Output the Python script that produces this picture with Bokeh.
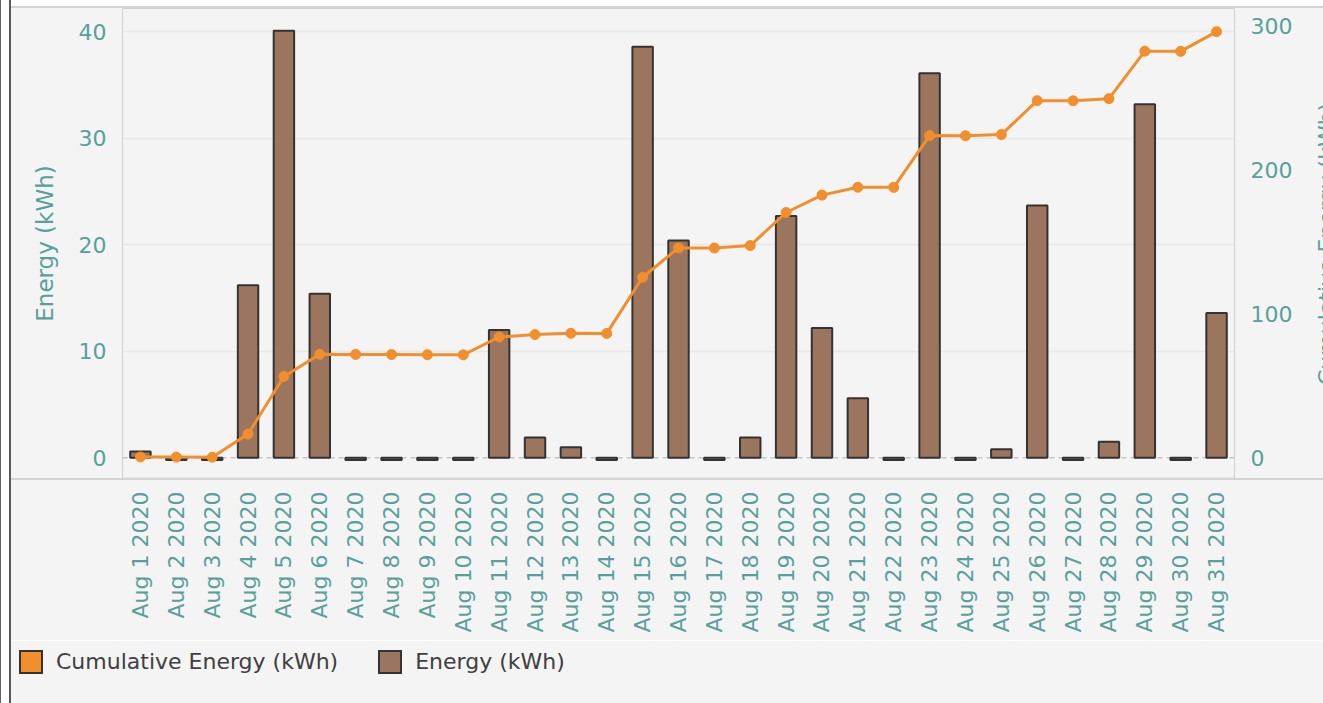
from math import pi
from bokeh.plotting import figure
from bokeh.models import (ColumnDataSource, FactorRange, Range1d, LinearAxis, FixedTicker,
                          Span, Div)
from bokeh.layouts import column, row
from bokeh.embed import file_html
from bokeh.resources import INLINE

days = ["Aug 1 2020", "Aug 2 2020", "Aug 3 2020", "Aug 4 2020", "Aug 5 2020", "Aug 6 2020",
        "Aug 7 2020", "Aug 8 2020", "Aug 9 2020", "Aug 10 2020", "Aug 11 2020", "Aug 12 2020",
        "Aug 13 2020", "Aug 14 2020", "Aug 15 2020", "Aug 16 2020", "Aug 17 2020", "Aug 18 2020",
        "Aug 19 2020", "Aug 20 2020", "Aug 21 2020", "Aug 22 2020", "Aug 23 2020", "Aug 24 2020",
        "Aug 25 2020", "Aug 26 2020", "Aug 27 2020", "Aug 28 2020", "Aug 29 2020", "Aug 30 2020",
        "Aug 31 2020"]
energy_kwh = [0.6, -0.2, -0.2, 16.2, 40.1, 15.4, -0.2, -0.2, -0.2, -0.2, 12.0, 1.9, 1.0, -0.2,
              38.6, 20.4, -0.2, 1.9, 22.7, 12.2, 5.6, -0.2, 36.1, -0.2, 0.8, 23.7, -0.2, 1.5,
              33.2, -0.2, 13.6]
cumulative_kwh = [0.6, 0.5, 0.4, 16.5, 56.6, 72.0, 71.9, 71.8, 71.7, 71.6, 84.0, 85.7, 86.6, 86.5,
                  125.6, 146.0, 145.9, 147.6, 170.6, 182.7, 188.2, 188.1, 224.1, 224.0, 224.8,
                  248.4, 248.3, 249.8, 282.8, 282.7, 296.4]
left_ticks = [0, 10, 20, 30, 40]
right_ticks = [0, 100, 200, 300]
grid_ticks = [10, 20, 30, 40]
left_title = "Energy (kWh)"
right_title = "Cumulative Energy (kWh)"

TEAL = "#58a09c"
BG = "#f4f4f4"
FONT = "DejaVu Sans"
ORANGE = "#f28e2b"
BROWN = "#9c755f"
DARK = "#333333"

W = 1312          # width right of the dark edge
RW = 7            # clipped strip holding the right-axis title
PW = W - RW
MBL, MBR = 111, 82

# pane background with the base rule that runs under both axis panes
PANE_BG = (f"linear-gradient(to bottom, {BG} 0px, {BG} 470px, #d4d4d4 470px, "
           f"#d4d4d4 472px, {BG} 472px, {BG} 632px)")

src = ColumnDataSource(dict(day=days, energy=energy_kwh, cum=cumulative_kwh))

p = figure(width=PW, height=632, x_range=FactorRange(factors=days, range_padding=0),
           y_range=Range1d(-1.94, 42.19), output_backend="svg", toolbar_location=None,
           min_border_left=MBL, min_border_right=MBR, min_border_top=0, min_border_bottom=162,
           background_fill_color=BG, border_fill_color=BG, border_fill_alpha=0,
           outline_line_color="#d0d0d0", outline_line_width=1,
           styles={"background": PANE_BG})
p.extra_y_ranges = {"cum": Range1d(-14.4, 312.5)}

p.xgrid.visible = False
p.ygrid[0].ticker = FixedTicker(ticks=grid_ticks)
p.ygrid.grid_line_color = "#e8e8e8"
p.ygrid.grid_line_width = 1.5

zero = Span(location=0, dimension="width", line_color="#c6c6c6", line_dash="5 4",
            line_width=1.5, level="underlay")
p.add_layout(zero)

p.vbar(x="day", top="energy", width=0.57, source=src, fill_color=BROWN,
       line_color=DARK, line_width=2)
p.line("day", "cum", source=src, y_range_name="cum", line_color=ORANGE, line_width=3)
p.scatter("day", "cum", source=src, y_range_name="cum", size=10,
          fill_color=ORANGE, line_color=ORANGE)

ra = LinearAxis(y_range_name="cum", ticker=FixedTicker(ticks=right_ticks))
p.add_layout(ra, "right")

la = p.left[0]
la.ticker = FixedTicker(ticks=left_ticks)
la.axis_label = left_title
la.axis_label_text_font = FONT
la.axis_label_text_font_size = "23px"
la.axis_label_text_font_style = "normal"
la.axis_label_text_color = TEAL
la.axis_label_standoff = 18

xa = p.below[0]
for ax in [la, ra, xa]:
    ax.major_label_text_font = FONT
    ax.major_label_text_font_size = "22px"
    ax.major_label_text_color = TEAL
    ax.major_tick_line_color = None
    ax.minor_tick_line_color = None
    ax.major_tick_out = 0
    ax.major_tick_in = 0
    ax.minor_tick_out = 0
    ax.minor_tick_in = 0
    ax.axis_line_color = None
    ax.major_label_standoff = 16

xa.major_label_orientation = pi / 2
xa.major_label_standoff = 13
xa.axis_line_color = "#d4d4d4"
xa.axis_line_width = 2

# right-axis title: cut by the window edge, as in the reference
rt_html = (
    "<div style=\"position:relative;width:7px;height:632px;overflow:hidden;\">"
    "<div style=\"position:absolute;left:0px;top:94px;height:283px;"
    "writing-mode:vertical-rl;transform:rotate(180deg);white-space:nowrap;"
    f"font-family:'DejaVu Sans';font-size:22px;line-height:22px;color:{TEAL};"
    f"text-align:center;\">{right_title}</div></div>"
)
rt = Div(text=rt_html, width=RW, height=632, margin=0,
         styles={"background": PANE_BG, "overflow": "hidden"})

box = ("display:inline-block;width:24px;height:24px;box-sizing:border-box;"
       "border:2px solid #333333;vertical-align:middle;")
legend_html = (
    "<div style=\"font-family:'DejaVu Sans';font-size:22px;color:#404040;"
    "white-space:nowrap;line-height:24px;padding:8px 0 0 8px;\">"
    f"<span style=\"{box}background:{ORANGE};margin-right:13px;\"></span>"
    f"<span style=\"vertical-align:middle;\">{right_title}</span>"
    f"<span style=\"{box}background:{BROWN};margin-left:40px;margin-right:13px;\"></span>"
    f"<span style=\"vertical-align:middle;\">{left_title}</span>"
    "</div>"
)
leg = Div(text=legend_html, width=W, height=62, margin=0,
          styles={"background-color": BG})

edge = Div(width=11, height=703, margin=0,
           styles={"background": "linear-gradient(to right, #666666 0px, #666666 1px, "
                                 "#ffffff 1px, #ffffff 9px, #595959 9px, #595959 11px)"})
top_strip = Div(width=W, height=8, margin=0,
                styles={"background": "linear-gradient(to bottom, #ffffff 0px, #ffffff 6px, "
                                      "#d3d3d3 6px, #d3d3d3 8px)"})
sep = Div(width=W, height=1, margin=0, styles={"background-color": "#ffffff"})
layout = row(edge, column(top_strip, row(p, rt, spacing=0), sep, leg, spacing=0), spacing=0)

open("out.html", "w").write(file_html(layout, INLINE))
